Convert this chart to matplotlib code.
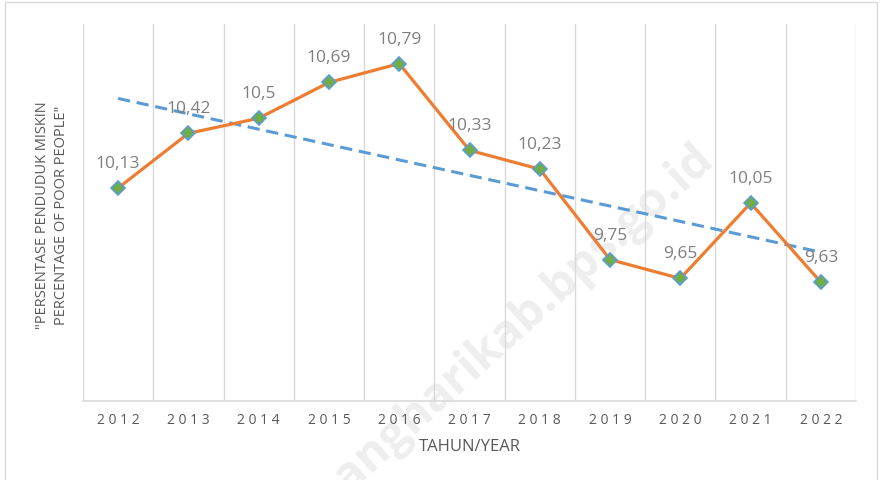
import matplotlib.pyplot as plt
import numpy as np
from matplotlib.patches import Rectangle

# data
years = ['2012', '2013', '2014', '2015', '2016', '2017', '2018', '2019', '2020', '2021', '2022']
values = [10.13, 10.42, 10.5, 10.69, 10.79, 10.33, 10.23, 9.75, 9.65, 10.05, 9.63]
labels = ['10,13', '10,42', '10,5', '10,69', '10,79', '10,33', '10,23', '9,75', '9,65', '10,05', '9,63']

plt.rcParams['font.family'] = ['Open Sans', 'DejaVu Sans']

fig = plt.figure(figsize=(8.8, 4.81), dpi=100)
ax = fig.add_axes([83/880, 1-402/481, (856-83)/880, (402-25)/481])
ax.patch.set_alpha(0)

x = np.arange(len(years))

# linear trendline
k, b = np.polyfit(x, values, 1)
ax.plot(x, k*x + b, color='#5b9bd5', lw=2.2, ls=(0, (4, 2.2)), zorder=2)

# main series
ax.plot(x, values, color='#ed7d31', lw=2.3, marker='D', ms=7,
        markerfacecolor='#70ad47', markeredgecolor='#5b9bd5', markeredgewidth=1.2, zorder=3)

for xi, v, t in zip(x, values, labels):
    ax.annotate(t, (xi, v), xytext=(0, 18), textcoords='offset points',
                ha='center', va='center', fontsize=12.5, color='#7f7f7f', zorder=4)

ax.set_xlim(-0.5, len(years) - 0.5)
ax.set_ylim(9, 11)

# vertical gridlines at category borders
for g in np.arange(-0.5, len(years), 1.0):
    ax.axvline(g, color='#d9d9d9', lw=1, zorder=1)

for s in ['top', 'right', 'left']:
    ax.spines[s].set_visible(False)
ax.spines['bottom'].set_color('#d9d9d9')
ax.spines['bottom'].set_linewidth(1.2)

ax.set_yticks([])
ax.set_xticks(x)
ax.set_xticklabels([' '.join(y) for y in years], fontsize=10, color='#595959')
ax.tick_params(axis='x', length=0, pad=8)

ax.set_xlabel('TAHUN/YEAR', fontsize=12, color='#595959', labelpad=8)
fig.text(52/880, 1-215/481, '"PERSENTASE PENDUDUK MISKIN\nPERCENTAGE OF POOR PEOPLE"',
         rotation=90, ha='center', va='center', fontsize=10.5, color='#595959',
         linespacing=1.3)

# watermark behind the plot
fig.text(524/880, 1-318/481, 'angharikab.bps.go.id', rotation=42, ha='center', va='center',
         fontsize=34, fontweight='bold', color='#eeeeee', zorder=-1)

# outer chart border
fig.patches.append(Rectangle((5/880, -0.1), (877-5)/880, 1.1 - 3/481, transform=fig.transFigure,
                             fill=False, edgecolor='#d9d9d9', lw=1))

fig.savefig('out.png', dpi=100)
